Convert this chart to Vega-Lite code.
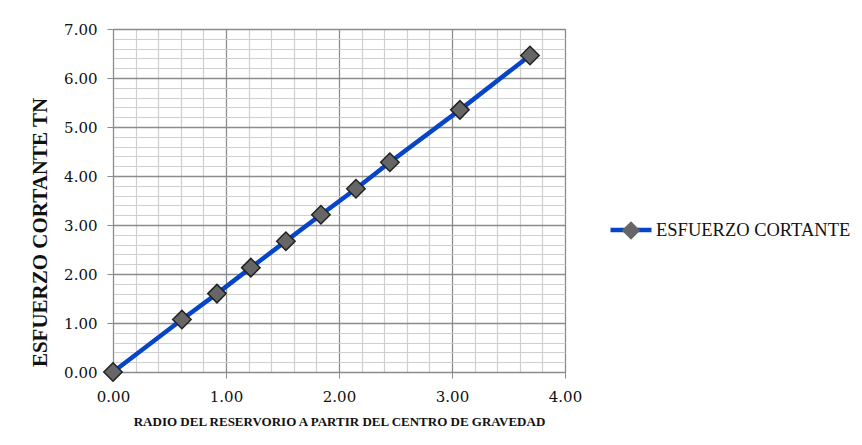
{
  "$schema": "https://vega.github.io/schema/vega-lite/v6.json",
  "autosize": "none",
  "padding": {"left": 113, "top": 29, "right": 297, "bottom": 73},
  "width": 452,
  "height": 343,
  "background": "white",
  "config": {
    "view": {"stroke": "#8c8c8c", "strokeWidth": 1},
    "axis": {
      "labelFont": "DejaVu Serif",
      "labelFontSize": 15,
      "labelColor": "#111",
      "titleFont": "Liberation Serif",
      "titleFontWeight": "bold",
      "titleColor": "#111",
      "domainColor": "#8c8c8c",
      "tickColor": "#8c8c8c",
      "tickSize": 6
    }
  },
  "data": {
    "values": [
      {"x": 0.0, "y": 0.0, "serie": "ESFUERZO CORTANTE"},
      {"x": 0.61, "y": 1.07, "serie": "ESFUERZO CORTANTE"},
      {"x": 0.92, "y": 1.6, "serie": "ESFUERZO CORTANTE"},
      {"x": 1.22, "y": 2.13, "serie": "ESFUERZO CORTANTE"},
      {"x": 1.53, "y": 2.67, "serie": "ESFUERZO CORTANTE"},
      {"x": 1.84, "y": 3.21, "serie": "ESFUERZO CORTANTE"},
      {"x": 2.15, "y": 3.74, "serie": "ESFUERZO CORTANTE"},
      {"x": 2.45, "y": 4.28, "serie": "ESFUERZO CORTANTE"},
      {"x": 3.07, "y": 5.35, "serie": "ESFUERZO CORTANTE"},
      {"x": 3.69, "y": 6.46, "serie": "ESFUERZO CORTANTE"}
    ]
  },
  "encoding": {
    "x": {
      "field": "x",
      "type": "quantitative",
      "scale": {"domain": [0, 4], "nice": false, "zero": false},
      "axis": {
        "values": [0, 0.2, 0.4, 0.6, 0.8, 1, 1.2, 1.4, 1.6, 1.8, 2, 2.2, 2.4, 2.6, 2.8, 3, 3.2, 3.4, 3.6, 3.8, 4],
        "labelExpr": "datum.value % 1 === 0 ? format(datum.value, '.2f') : ''",
        "tickOpacity": {"condition": {"test": "datum.value % 1 === 0", "value": 1}, "value": 0},
        "gridColor": {"condition": {"test": "datum.value % 1 === 0", "value": "#8c8c8c"}, "value": "#cfcfcf"},
        "gridWidth": {"condition": {"test": "datum.value % 1 === 0", "value": 1.3}, "value": 1.2},
        "labelPadding": 11,
        "labelFlush": false,
        "title": "RADIO DEL RESERVORIO A PARTIR DEL CENTRO DE GRAVEDAD",
        "titleFontSize": 13,
        "titleY": 49,
        "titleBaseline": "middle"
      }
    },
    "y": {
      "field": "y",
      "type": "quantitative",
      "scale": {"domain": [0, 7], "nice": false},
      "axis": {
        "values": [0, 0.2, 0.4, 0.6, 0.8, 1, 1.2, 1.4, 1.6, 1.8, 2, 2.2, 2.4, 2.6, 2.8, 3, 3.2, 3.4, 3.6, 3.8, 4, 4.2, 4.4, 4.6, 4.8, 5, 5.2, 5.4, 5.6, 5.8, 6, 6.2, 6.4, 6.6, 6.8, 7],
        "labelExpr": "datum.value % 1 === 0 ? format(datum.value, '.2f') : ''",
        "tickOpacity": {"condition": {"test": "datum.value % 1 === 0", "value": 1}, "value": 0},
        "gridColor": {"condition": {"test": "datum.value % 1 === 0", "value": "#8c8c8c"}, "value": "#cfcfcf"},
        "gridWidth": {"condition": {"test": "datum.value % 1 === 0", "value": 1.3}, "value": 1.2},
        "labelPadding": 10,
        "labelFlush": false,
        "title": "ESFUERZO CORTANTE TN",
        "titleFontSize": 21,
        "titleAngle": -90,
        "titleX": -73,
        "titleY": 203,
        "titleAlign": "center",
        "titleBaseline": "middle"
      }
    }
  },
  "layer": [
    {
      "mark": {"type": "line", "strokeWidth": 4.5, "color": "#0645c8"},
      "encoding": {
        "color": {
          "field": "serie",
          "type": "nominal",
          "scale": {"range": ["#0645c8"]},
          "legend": {
            "title": null,
            "orient": "none",
            "legendX": 495,
            "legendY": 178,
            "padding": 0,
            "symbolType": "stroke",
            "symbolSize": 1681,
            "symbolStrokeWidth": 4.5,
            "labelFont": "Liberation Serif",
            "labelFontSize": 18.5,
            "labelColor": "#111",
            "labelOffset": 2,
            "labelLimit": 400
          }
        }
      }
    },
    {
      "mark": {"type": "point", "filled": true, "fill": "#666666", "stroke": "#222222", "strokeWidth": 1.5, "size": 340, "opacity": 1},
      "encoding": {
        "shape": {
          "field": "serie",
          "type": "nominal",
          "scale": {"range": ["diamond"]},
          "legend": {
            "title": null,
            "orient": "none",
            "legendX": 508,
            "legendY": 191.5,
            "padding": 0,
            "symbolSize": 340,
            "symbolFillColor": "#666666",
            "symbolStrokeColor": "#222222",
            "symbolStrokeWidth": 1.5,
            "symbolOpacity": 1,
            "labelExpr": "''",
            "labelFontSize": 1
          }
        }
      }
    }
  ]
}
